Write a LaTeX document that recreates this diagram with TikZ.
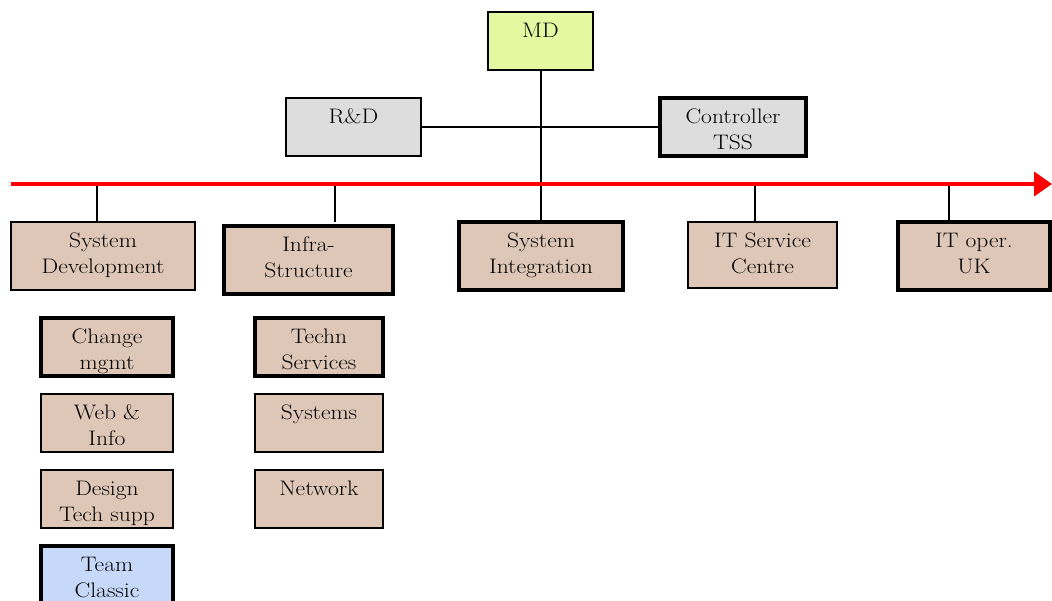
\documentclass[tikz,border=0pt]{standalone}
\usepackage{fontspec}
\setmainfont{Latin Modern Roman}[FakeStretch=1.12]
\usetikzlibrary{arrows.meta}
\definecolor{boxtan}{HTML}{DFC7B7}
\definecolor{boxgray}{HTML}{DDDDDD}
\definecolor{mdgreen}{HTML}{E3F8A0}
\definecolor{teamblue}{HTML}{C6D9F8}
\newcommand\tstrut{\rule{0pt}{18.5pt}}
\begin{document}
\begin{tikzpicture}[x=1pt,y=-1pt,
  lbl/.style={anchor=north, inner sep=0pt, outer sep=0pt, minimum width=0pt, minimum height=0pt,
    draw=none, fill=none, path picture={}, align=center, font=\fontsize{21}{26}\selectfont},
  bx/.style n args={3}{draw=black, line width=2pt, anchor=north west, inner sep=0pt, outer sep=0pt,
    minimum width=#1, minimum height=#2,
    path picture={\node[lbl] at ([yshift=-7pt]path picture bounding box.north) {\tstrut #3};}},
  thickb/.style={line width=3.5pt},
  tanb/.style={fill=boxtan},
  conn/.style={draw=black, line width=2pt},
  redline/.style={draw=red, line width=4pt, -{Triangle[length=18pt,width=24pt]}}
]
\useasboundingbox (0,0) rectangle (1052,601);

% top level
\node[bx={105}{58}{MD}, fill=mdgreen] (md) at (488,12) {};
\node[bx={135}{58}{R\&D}, fill=boxgray] (rd) at (286,98) {};
\node[bx={146}{58}{Controller\\TSS}, fill=boxgray, thickb] (ctl) at (660,98) {};

% departments
\node[bx={184}{68}{System\\Development}, tanb] (sd) at (11,222) {};
\node[bx={169}{68}{Infra-\\Structure}, tanb, thickb] (inf) at (224,226) {};
\node[bx={164}{68}{System\\Integration}, tanb, thickb] (si) at (459,222) {};
\node[bx={149}{66}{IT Service\\Centre}, tanb, line width=2.5pt] (itsc) at (688,222) {};
\node[bx={152}{68}{IT oper.\\UK}, tanb, thickb] (itop) at (898,222) {};

% sub units
\node[bx={132}{58}{Change\\mgmt}, tanb, thickb] (chg) at (41,318) {};
\node[bx={132}{58}{Web \&\\Info}, tanb] (web) at (41,394) {};
\node[bx={132}{58}{Design\\Tech supp}, tanb] (des) at (41,470) {};
\node[bx={132}{70}{Team\\Classic}, fill=teamblue, thickb] (team) at (41,546) {};
\node[bx={128}{58}{Techn\\Services}, tanb, thickb] (tec) at (255,318) {};
\node[bx={128}{58}{Systems}, tanb] (sys) at (255,394) {};
\node[bx={128}{58}{Network}, tanb] (net) at (255,470) {};

% connectors
\coordinate (rs) at (11,184);
\coordinate (re) at (1052,184);
\draw[conn] (md.south) -- (md.south |- si.north);
\draw[conn] (rd.east) -- (ctl.west);
\draw[conn] ([xshift=-6pt]sd.north) -- ([xshift=-6pt]sd.north |- rs);
\draw[conn] ([xshift=26.5pt]inf.north) ++(0,-4) -- ([xshift=26.5pt]inf.north |- rs);
\draw[conn] ([xshift=-7.5pt]itsc.north) -- ([xshift=-7.5pt]itsc.north |- rs);
\draw[conn] ([xshift=-25pt]itop.north) -- ([xshift=-25pt]itop.north |- rs);
\draw[redline] (rs) -- (re);
\end{tikzpicture}
\end{document}
